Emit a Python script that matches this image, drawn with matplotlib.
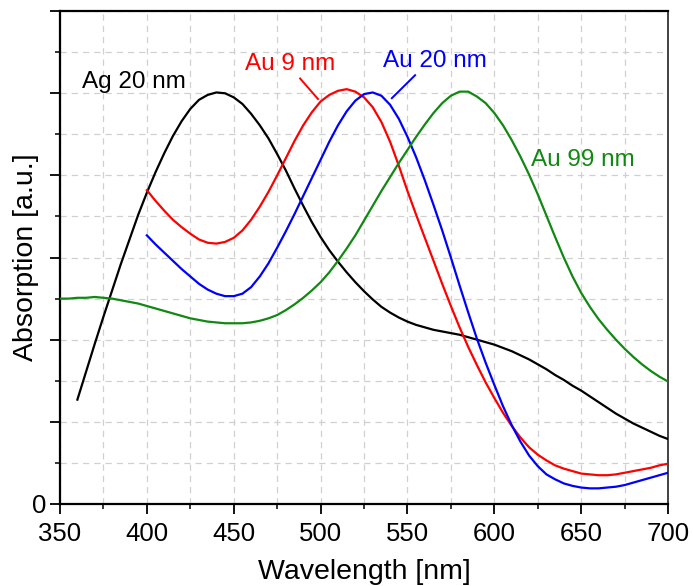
import numpy as np
import matplotlib.pyplot as plt
from matplotlib.ticker import MultipleLocator

plt.rcParams['font.family'] = ['Liberation Sans', 'DejaVu Sans']

# Ag 20 nm, 360-700 nm in 5 nm steps
wl_ag20 = np.arange(360, 701, 5)
abs_ag20 = [1.27, 1.61, 1.95, 2.28, 2.60, 2.92, 3.22, 3.52, 3.79, 4.04, 4.27, 4.48,
            4.66, 4.81, 4.92, 4.98, 5.01, 5.00, 4.95, 4.87, 4.75, 4.61, 4.45, 4.26,
            4.06, 3.84, 3.63, 3.43, 3.25, 3.09, 2.95, 2.82, 2.70, 2.59, 2.49, 2.40,
            2.33, 2.27, 2.22, 2.18, 2.15, 2.12, 2.10, 2.08, 2.06, 2.03, 2.00, 1.97,
            1.94, 1.90, 1.86, 1.81, 1.76, 1.70, 1.64, 1.57, 1.51, 1.44, 1.38, 1.31,
            1.24, 1.17, 1.10, 1.04, 0.98, 0.93, 0.88, 0.83, 0.79]

# Au 9 nm, 400-700 nm
wl_au9 = np.arange(400, 701, 5)
abs_au9 = [3.82, 3.69, 3.57, 3.46, 3.37, 3.29, 3.22, 3.18, 3.17, 3.19, 3.24, 3.33,
           3.46, 3.62, 3.80, 4.00, 4.21, 4.42, 4.61, 4.77, 4.90, 4.98, 5.03, 5.05,
           5.02, 4.95, 4.83, 4.65, 4.41, 4.12, 3.81, 3.52, 3.24, 2.96, 2.68, 2.41,
           2.15, 1.91, 1.69, 1.48, 1.29, 1.11, 0.95, 0.81, 0.69, 0.60, 0.53, 0.47,
           0.43, 0.40, 0.37, 0.36, 0.35, 0.35, 0.36, 0.38, 0.40, 0.42, 0.44, 0.47,
           0.49]

# Au 20 nm, 400-700 nm
wl_au20 = np.arange(400, 701, 5)
abs_au20 = [3.27, 3.16, 3.06, 2.96, 2.86, 2.77, 2.68, 2.61, 2.56, 2.53, 2.53, 2.56,
            2.64, 2.77, 2.93, 3.12, 3.32, 3.53, 3.75, 3.97, 4.19, 4.41, 4.61, 4.78,
            4.91, 4.99, 5.01, 4.97, 4.86, 4.69, 4.47, 4.22, 3.94, 3.64, 3.33, 3.00,
            2.66, 2.33, 2.01, 1.72, 1.45, 1.19, 0.96, 0.76, 0.59, 0.46, 0.36, 0.30,
            0.25, 0.22, 0.20, 0.19, 0.19, 0.20, 0.21, 0.23, 0.26, 0.29, 0.32, 0.35,
            0.38]

# Au 99 nm, 350-700 nm
wl_au99 = np.arange(350, 701, 5)
abs_au99 = [2.50, 2.50, 2.51, 2.51, 2.52, 2.51, 2.50, 2.48, 2.46, 2.44, 2.41, 2.38,
            2.35, 2.32, 2.29, 2.26, 2.24, 2.22, 2.21, 2.20, 2.20, 2.20, 2.21, 2.23,
            2.26, 2.30, 2.36, 2.43, 2.51, 2.60, 2.70, 2.82, 2.96, 3.11, 3.27, 3.45,
            3.63, 3.81, 3.98, 4.15, 4.31, 4.47, 4.62, 4.76, 4.88, 4.97, 5.02, 5.02,
            4.96, 4.88, 4.76, 4.61, 4.43, 4.23, 4.01, 3.77, 3.51, 3.25, 3.00, 2.77,
            2.57, 2.40, 2.25, 2.12, 2.00, 1.89, 1.79, 1.70, 1.62, 1.55, 1.49]

fig = plt.figure(figsize=(6.93, 5.86), dpi=100)
ax = fig.add_axes([0.0866, 0.14, 0.8774, 0.841])

lw = 1.6
ax.plot(wl_ag20, abs_ag20, color='black', lw=lw, zorder=3)
ax.plot(wl_au9, abs_au9, color='#ff0000', lw=lw, zorder=3)
ax.plot(wl_au20, abs_au20, color='#0000ff', lw=lw, zorder=3)
ax.plot(wl_au99, abs_au99, color='#118811', lw=lw, zorder=3)

# curve labels
fs = 17.5
ax.text(362.7, 5.07, 'Ag 20 nm', color='black', fontsize=fs)
ax.text(456.5, 5.28, 'Au 9 nm', color='#ff0000', fontsize=fs)
ax.text(535.9, 5.32, 'Au 20 nm', color='#0000ff', fontsize=fs)
ax.text(621.2, 4.12, 'Au 99 nm', color='#118811', fontsize=fs)
ax.plot([488.2, 498.5], [5.18, 4.93], color='#ff0000', lw=1.4)
ax.plot([554.4, 541.0], [5.22, 4.94], color='#0000ff', lw=1.4)

ax.set_xlim(350, 700)
ax.set_ylim(0, 6)
ax.xaxis.set_major_locator(MultipleLocator(50))
ax.xaxis.set_minor_locator(MultipleLocator(25))
ax.yaxis.set_major_locator(MultipleLocator(1))
ax.yaxis.set_minor_locator(MultipleLocator(0.5))
ax.set_yticklabels(['0' if t == 0 else '' for t in ax.get_yticks()])

ax.grid(True, which='both', linestyle=(0, (5, 4)), color='#d0d0d0', lw=0.9, zorder=0)
ax.tick_params(which='major', direction='out', length=7, width=1.3, labelsize=18.5, pad=6)
ax.tick_params(which='minor', direction='out', length=3.5, width=1.1)
ax.tick_params(axis='y', which='major', pad=3)
for side in ['left', 'bottom', 'top']:
    ax.spines[side].set_linewidth(1.6)
ax.spines['right'].set_linewidth(1.3)
ax.spines['right'].set_color('#333333')

ax.set_xlabel('Wavelength [nm]', fontsize=20.5, labelpad=9)
ax.set_ylabel('Absorption [a.u.]', fontsize=20.5)
ax.yaxis.set_label_coords(-0.035, 0.5)

fig.savefig('out.png', dpi=100)
